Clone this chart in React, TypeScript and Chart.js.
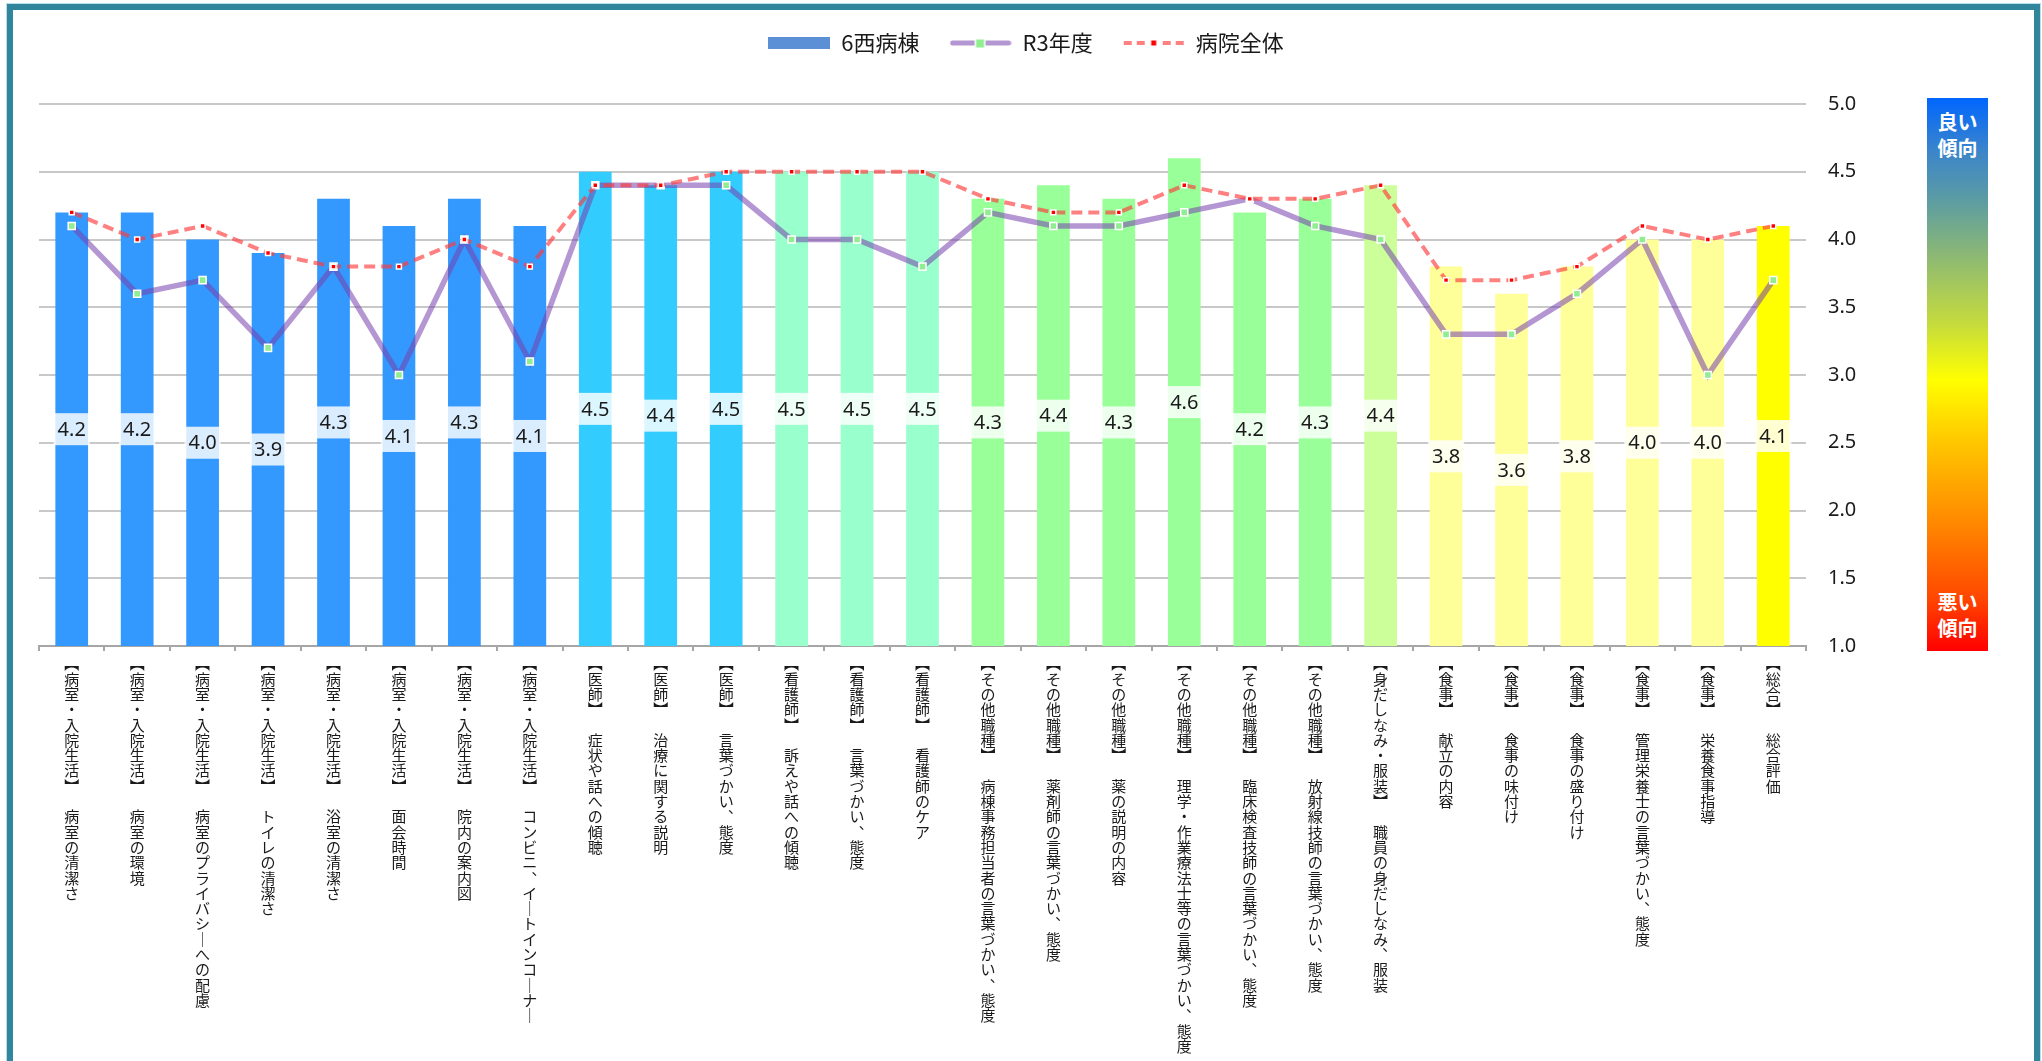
import React, { useEffect, useRef } from "react";
import { Chart, registerables } from "chart.js";

Chart.register(...registerables);

// ---------- data ----------
const categories: string[] = [
  "【病室・入院生活】　病室の清潔さ",
  "【病室・入院生活】　病室の環境",
  "【病室・入院生活】　病室のプライバシーへの配慮",
  "【病室・入院生活】　トイレの清潔さ",
  "【病室・入院生活】　浴室の清潔さ",
  "【病室・入院生活】　面会時間",
  "【病室・入院生活】　院内の案内図",
  "【病室・入院生活】　コンビニ、イートインコーナー",
  "【医師】　症状や話への傾聴",
  "【医師】　治療に関する説明",
  "【医師】　言葉づかい、態度",
  "【看護師】　訴えや話への傾聴",
  "【看護師】　言葉づかい、態度",
  "【看護師】　看護師のケア",
  "【その他職種】　病棟事務担当者の言葉づかい、態度",
  "【その他職種】　薬剤師の言葉づかい、態度",
  "【その他職種】　薬の説明の内容",
  "【その他職種】　理学・作業療法士等の言葉づかい、態度",
  "【その他職種】　臨床検査技師の言葉づかい、態度",
  "【その他職種】　放射線技師の言葉づかい、態度",
  "【身だしなみ・服装】　職員の身だしなみ、服装",
  "【食事】　献立の内容",
  "【食事】　食事の味付け",
  "【食事】　食事の盛り付け",
  "【食事】　管理栄養士の言葉づかい、態度",
  "【食事】　栄養食事指導",
  "【総合】　総合評価",
];

const ward6West: number[] = [
  4.2, 4.2, 4.0, 3.9, 4.3, 4.1, 4.3, 4.1,
  4.5, 4.4, 4.5,
  4.5, 4.5, 4.5,
  4.3, 4.4, 4.3, 4.6, 4.2, 4.3,
  4.4,
  3.8, 3.6, 3.8, 4.0, 4.0,
  4.1,
];

const r3Year: number[] = [
  4.1, 3.6, 3.7, 3.2, 3.8, 3.0, 4.0, 3.1,
  4.4, 4.4, 4.4,
  4.0, 4.0, 3.8,
  4.2, 4.1, 4.1, 4.2, 4.3, 4.1,
  4.0,
  3.3, 3.3, 3.6, 4.0, 3.0,
  3.7,
];

const hospitalAll: number[] = [
  4.2, 4.0, 4.1, 3.9, 3.8, 3.8, 4.0, 3.8,
  4.4, 4.4, 4.5,
  4.5, 4.5, 4.5,
  4.3, 4.2, 4.2, 4.4, 4.3, 4.3,
  4.4,
  3.7, 3.7, 3.8, 4.1, 4.0,
  4.1,
];

const seriesNames: string[] = ["6西病棟", "R3年度", "病院全体"];

// ---------- styles ----------
const barColors: string[] = [
  ...Array(8).fill("#3399FF"),
  ...Array(3).fill("#33CCFF"),
  ...Array(3).fill("#99FFCC"),
  ...Array(6).fill("#99FF99"),
  "#CCFF99",
  ...Array(5).fill("#FFFF99"),
  "#FFFF00",
];

const VERTICAL_FORMS: Record<string, string> = {
  "【": "︻",
  "】": "︼",
  "、": "︑",
  "ー": "｜",
};
const toVertical = (s: string) => Array.from(s).map((c) => VERTICAL_FORMS[c] ?? c);

const PURPLE = "rgba(119,64,173,0.55)";
const RED = "rgba(255,60,60,0.65)";
const JP = '"Noto Sans CJK JP", "Noto Sans", sans-serif';

function makeIcon(draw: (ctx: CanvasRenderingContext2D) => void) {
  const c = document.createElement("canvas");
  c.width = 62;
  c.height = 14;
  const ctx = c.getContext("2d")!;
  draw(ctx);
  return c;
}

const legendSpacing = {
  id: "legendSpacing",
  beforeLayout(chart: any) {
    const lg = chart.legend;
    if (lg && !lg.__patched) {
      const orig = lg.fit;
      lg.fit = function () {
        orig.call(this);
        this.height += 40;
      };
      lg.__patched = true;
    }
  },
};

const barLabels = {
  id: "barLabels",
  afterDatasetDraw(chart: any, args: any) {
    if (args.index !== 0) return;
    const ctx = chart.ctx as CanvasRenderingContext2D;
    const data = chart.data.datasets[0].data as number[];
    const bottom = chart.chartArea.bottom;
    args.meta.data.forEach((bar: any, i: number) => {
      const { x, y, base, width } = bar.getProps(["x", "y", "base", "width"], true);
      const cy = (y + Math.min(base, bottom)) / 2;
      const text = Number(data[i]).toFixed(1);
      ctx.save();
      ctx.font = '20px "Noto Sans", sans-serif';
      const tw = ctx.measureText(text).width;
      const bw = Math.max(width, tw + 8);
      ctx.fillStyle = "rgba(255,255,255,0.82)";
      ctx.fillRect(x - bw / 2, cy - 16, bw, 32);
      ctx.fillStyle = "#1a1a1a";
      ctx.textAlign = "center";
      ctx.textBaseline = "middle";
      ctx.fillText(text, x, cy + 1);
      ctx.restore();
    });
  },
};

export default function App() {
  const canvasRef = useRef<HTMLCanvasElement | null>(null);

  useEffect(() => {
    if (!canvasRef.current) return;

    const icons = [
      makeIcon((ctx) => {
        ctx.fillStyle = "#5B8FD6";
        ctx.fillRect(0, 1, 62, 12);
      }),
      makeIcon((ctx) => {
        ctx.strokeStyle = PURPLE;
        ctx.lineWidth = 5;
        ctx.lineCap = "round";
        ctx.beginPath();
        ctx.moveTo(3, 7);
        ctx.lineTo(59, 7);
        ctx.stroke();
        ctx.fillStyle = "#ffffff";
        ctx.fillRect(25, 2, 11, 11);
        ctx.fillStyle = "#90EE90";
        ctx.fillRect(26.5, 3.5, 8, 8);
      }),
      makeIcon((ctx) => {
        ctx.strokeStyle = RED;
        ctx.lineWidth = 4;
        ctx.setLineDash([8, 5]);
        ctx.beginPath();
        ctx.moveTo(1, 7);
        ctx.lineTo(61, 7);
        ctx.stroke();
        ctx.fillStyle = "#ffffff";
        ctx.fillRect(27, 3, 8, 8);
        ctx.fillStyle = "#FF0000";
        ctx.fillRect(28.5, 4.5, 5, 5);
      }),
    ];

    const chart = new Chart(canvasRef.current, {
      type: "bar",
      data: {
        labels: categories,
        datasets: [
          {
            type: "bar",
            label: seriesNames[0],
            data: ward6West,
            backgroundColor: barColors,
            borderWidth: 0,
            barPercentage: 0.5,
            categoryPercentage: 1,
            order: 3,
          } as any,
          {
            type: "line",
            label: seriesNames[1],
            data: r3Year,
            borderColor: PURPLE,
            borderWidth: 5.5,
            tension: 0,
            pointStyle: "rect",
            pointRadius: 5,
            pointBackgroundColor: "#90EE90",
            pointBorderColor: "#ffffff",
            pointBorderWidth: 1.5,
            order: 2,
          } as any,
          {
            type: "line",
            label: seriesNames[2],
            data: hospitalAll,
            borderColor: RED,
            borderWidth: 4,
            borderDash: [11, 6],
            tension: 0,
            pointStyle: "rect",
            pointRadius: 3.5,
            pointBackgroundColor: "#FF0000",
            pointBorderColor: "#ffffff",
            pointBorderWidth: 1.5,
            order: 1,
          } as any,
        ],
      },
      options: {
        responsive: false,
        animation: false,
        devicePixelRatio: 1,
        layout: { padding: { left: 39, right: 29, top: 2, bottom: 0 } },
        plugins: {
          tooltip: { enabled: false },
          legend: {
            position: "top",
            labels: {
              usePointStyle: true,
              pointStyleWidth: 62,
              padding: 30,
              color: "#1a1a1a",
              font: { family: JP, size: 22 },
              generateLabels: (c: any) =>
                c.data.datasets.map((ds: any, i: number) => ({
                  text: ds.label,
                  pointStyle: icons[i],
                  datasetIndex: i,
                  hidden: false,
                  lineWidth: 0,
                  strokeStyle: "transparent",
                  fillStyle: "transparent",
                  fontColor: "#1a1a1a",
                })),
            },
          },
        },
        scales: {
          x: {
            grid: {
              offset: true,
              drawOnChartArea: false,
              drawTicks: true,
              tickLength: 5,
              color: "#A6A6A6",
              lineWidth: 2,
            },
            border: { display: true, color: "#A6A6A6", width: 2 },
            ticks: {
              autoSkip: false,
              maxRotation: 0,
              minRotation: 0,
              padding: 5,
              color: "#1a1a1a",
              font: { family: JP, size: 15, lineHeight: 1.02 },
              callback: (_v: any, i: number) => toVertical(categories[i]),
            },
            afterFit: (axis: any) => {
              axis.height = 420;
            },
          },
          y: {
            position: "right",
            min: 1,
            max: 5,
            grid: { color: "#C8C8C8", lineWidth: 2, drawTicks: false },
            border: { display: false },
            ticks: {
              stepSize: 0.5,
              padding: 22,
              color: "#1a1a1a",
              font: { family: '"Noto Sans", sans-serif', size: 20 },
              callback: (v: any) => Number(v).toFixed(1),
            },
            afterFit: (axis: any) => {
              axis.width = 207;
            },
          },
        },
      } as any,
      plugins: [legendSpacing, barLabels],
    });

    return () => chart.destroy();
  }, []);

  const cbText: React.CSSProperties = {
    position: "absolute",
    left: 0,
    width: "100%",
    textAlign: "center",
    color: "#ffffff",
    fontFamily: JP,
    fontWeight: 700,
    fontSize: 20,
    lineHeight: "26px",
  };

  return (
    <div
      style={{
        position: "fixed",
        left: 0,
        top: 0,
        width: 2042,
        height: 1061,
        overflow: "hidden",
        background: "#ffffff",
      }}
    >
      <div
        style={{
          position: "absolute",
          left: 7,
          top: 4,
          width: 2033,
          height: 1200,
          border: "6px solid #31859C",
          boxSizing: "border-box",
          boxShadow: "0 0 0 1px #B9DEE8",
        }}
      />
      <canvas
        ref={canvasRef}
        width={2042}
        height={1066}
        style={{ position: "absolute", left: 0, top: 0, width: 2042, height: 1066 }}
      />
      <div
        style={{
          position: "absolute",
          left: 1927,
          top: 98,
          width: 61,
          height: 553,
          background:
            "linear-gradient(to bottom, #0066FF 0%, #3D86C8 10%, #5A9BA5 18%, #8FBA72 29%, #C6DC3C 41%, #FFFF00 51%, #FFC800 62%, #FF8C00 76%, #FF4A00 90%, #FF0000 100%)",
        }}
      >
        <div style={{ ...cbText, top: 11 }}>
          良い
          <br />
          傾向
        </div>
        <div style={{ ...cbText, bottom: 10 }}>
          悪い
          <br />
          傾向
        </div>
      </div>
    </div>
  );
}
